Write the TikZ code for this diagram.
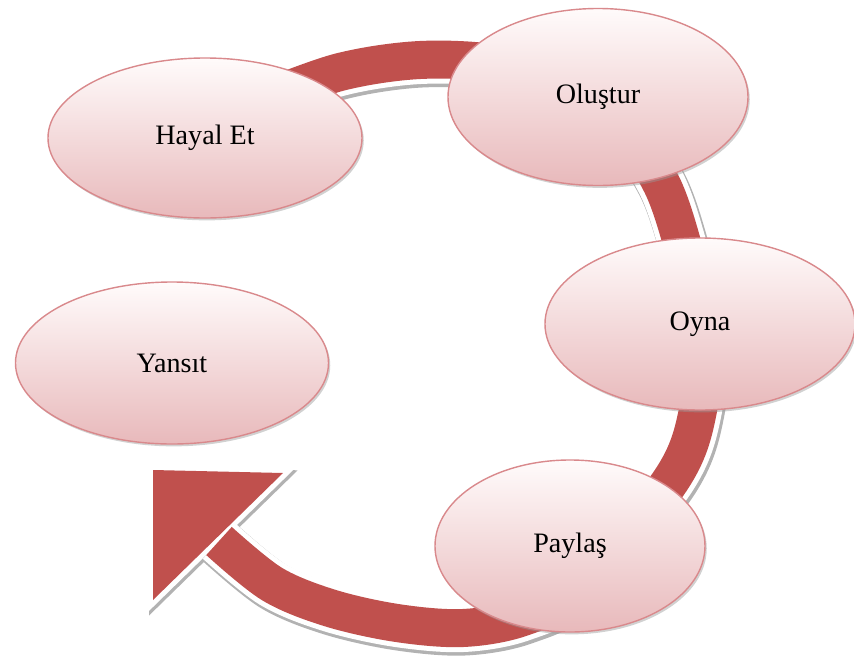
\documentclass[tikz,border=0pt]{standalone}
\usepackage{fontspec}
\setmainfont{Liberation Serif}
\usetikzlibrary{shapes.geometric,shadows}

\definecolor{bandred}{HTML}{C0504D}
\definecolor{elltop}{HTML}{FFFBFB}
\definecolor{ellbot}{HTML}{E8B9BB}
\definecolor{ellline}{HTML}{D9898C}

\tikzset{
  stage/.style={ellipse, draw=ellline, line width=1.2pt, inner sep=0pt,
    top color=elltop, bottom color=ellbot,
    drop shadow={shadow xshift=1.5pt, shadow yshift=-2pt, fill=black!40, opacity=0.45},
    font=\fontsize{24}{29}\selectfont},
}

\newcommand\bandpath{plot[smooth, tension=0.55] coordinates {(262,100) (340,72) (420,60) (500,64) (570,85) (625,130) (662,185) (684,250) (702,325) (698,410) (671,480) (582,585) (523,617) (463,628) (397,623) (330,608) (272,584) (219,541)}}
\newcommand\headpath{(153,470) -- (283,473) -- (153,600) -- cycle}

\begin{document}
\begin{tikzpicture}[x=0.03cm, y=-0.03cm]
    \useasboundingbox (0,0) rectangle (854,660);

    \draw[black!30, line width=1.5cm, shift={(1.5,2.5)}] \bandpath;
    \filldraw[black!30, line width=0.33cm, line join=miter, shift={(1.5,2.5)}] \headpath;
    \draw[white, line width=1.44cm] \bandpath;
    \filldraw[white, line width=0.3cm, line join=miter] \headpath;
    \draw[bandred, line width=1.14cm] \bandpath;
    \fill[bandred] \headpath;

    \node[stage, minimum width=9.42cm, minimum height=4.8cm] (hayal) at (205,138) {Hayal Et};
    \node[stage, minimum width=9.0cm, minimum height=5.31cm] (olustur) at (598,97) {Oluştur};
    \node[stage, minimum width=9.3cm, minimum height=5.16cm] (oyna) at (700,324) {Oyna};
    \node[stage, minimum width=8.1cm, minimum height=5.16cm] (paylas) at (570,546) {Paylaş};
    \node[stage, minimum width=9.39cm, minimum height=4.86cm] (yansit) at (172,363) {Yansıt};
\end{tikzpicture}
\end{document}
